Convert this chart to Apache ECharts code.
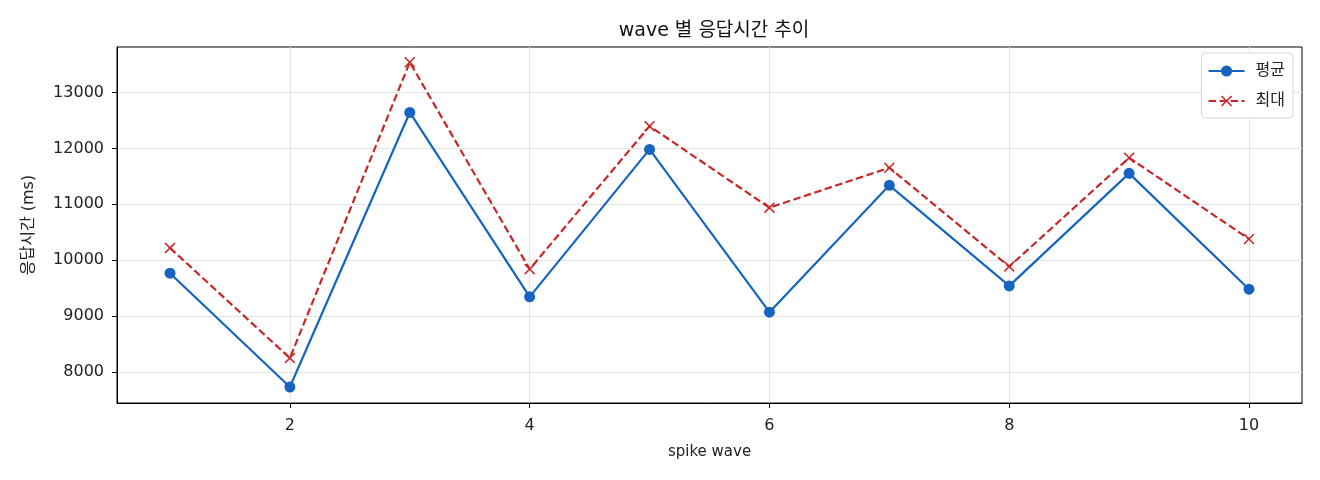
<!DOCTYPE html>
<html>
<head>
<meta charset="utf-8">
<script src="https://cdn.jsdelivr.net/npm/echarts@6/dist/echarts.min.js"></script>
<style>
  html, body { margin: 0; padding: 0; background: #fff; }
  #chart { width: 1320px; height: 480px; }
</style>
</head>
<body>
<div id="chart"></div>
<script>
// spike wave 번호
const waves = [1, 2, 3, 4, 5, 6, 7, 8, 9, 10]
// 평균 응답시간 (ms)
const avgValues = [9768, 7732, 12643, 9345, 11982, 9071, 11339, 9541, 11554, 9482]
// 최대 응답시간 (ms)
const maxValues = [10220, 8250, 13541, 9839, 12398, 10940, 11654, 9886, 11832, 10380]
// 눈금
const xTicks = [2, 4, 6, 8, 10]
const yTicks = [8000, 9000, 10000, 11000, 12000, 13000]

const font = 'DejaVu Sans, Noto Sans CJK KR'
const crossPath = 'path://M1,0L5,4L9,0L10,1L6,5L10,9L9,10L5,6L1,10L0,9L4,5L0,1Z'

const chart = echarts.init(document.getElementById('chart'))

const axisCommon = {
  axisLine: { show: true, onZero: false, lineStyle: { color: '#000', width: 1 } },
  axisTick: { show: true, inside: false, length: 5, lineStyle: { color: '#000' } },
  axisLabel: { color: '#222', fontSize: 16, fontFamily: font, formatter: v => String(v) },
  splitLine: { show: true, lineStyle: { color: '#e4e4e4', width: 1 } },
  nameTextStyle: { color: '#222', fontSize: 15, fontFamily: font }
}

const option = {
  animation: false,
  textStyle: { fontFamily: font },
  title: {
    text: 'wave 별 응답시간 추이',
    left: 709,
    textAlign: 'center',
    top: 17,
    textStyle: { fontSize: 19, fontWeight: 'normal', color: '#111', fontFamily: font }
  },
  legend: {
    orient: 'vertical',
    right: 27,
    top: 53,
    itemWidth: 36,
    itemHeight: 14,
    itemGap: 14,
    padding: [10, 8, 9, 6],
    borderColor: '#d6d6d6',
    borderWidth: 1,
    borderRadius: 4,
    backgroundColor: '#fff',
    textStyle: { fontSize: 16, color: '#222', fontFamily: font, padding: [0, 0, 0, 6] },
    data: ['평균', '최대']
  },
  grid: { left: 117, right: 18, top: 47, bottom: 77, show: true, borderColor: '#000', borderWidth: 1 },
  xAxis: {
    type: 'value',
    min: 0.558,
    max: 10.442,
    name: 'spike wave',
    nameLocation: 'middle',
    nameGap: 42,
    ...axisCommon,
    axisTick: { ...axisCommon.axisTick, customValues: xTicks },
    axisLabel: { ...axisCommon.axisLabel, margin: 15, customValues: xTicks }
  },
  yAxis: {
    type: 'value',
    min: 7446,
    max: 13814,
    name: '응답시간 (ms)',
    nameLocation: 'middle',
    nameGap: 80,
    ...axisCommon,
    nameTextStyle: { ...axisCommon.nameTextStyle, fontSize: 16 },
    axisTick: { ...axisCommon.axisTick, customValues: yTicks },
    axisLabel: { ...axisCommon.axisLabel, margin: 13, customValues: yTicks }
  },
  series: [
    {
      name: '평균',
      type: 'line',
      data: waves.map((w, i) => [w, avgValues[i]]),
      symbol: 'circle',
      symbolSize: 11,
      lineStyle: { color: '#1565C0', width: 2.2 },
      itemStyle: { color: '#1565C0' },
      z: 3
    },
    {
      name: '최대',
      type: 'line',
      data: waves.map((w, i) => [w, maxValues[i]]),
      symbol: crossPath,
      symbolSize: 11,
      lineStyle: { color: '#C62828', width: 2.2, type: [7.5, 3.5] },
      itemStyle: { color: '#C62828' },
      z: 2
    }
  ]
}

chart.setOption(option)
</script>
</body>
</html>
